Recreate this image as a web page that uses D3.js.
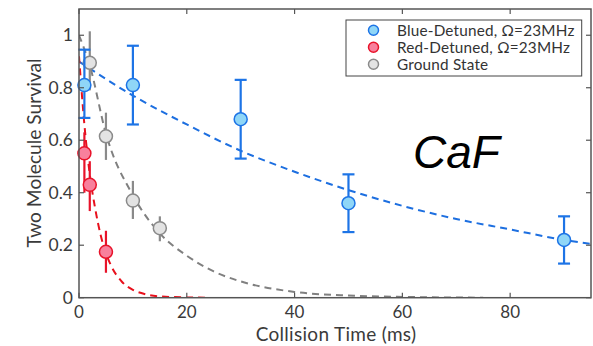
<!DOCTYPE html>
<html><head><meta charset="utf-8">
<script src="https://cdn.jsdelivr.net/npm/d3@7"></script>
<style>body{margin:0;background:#fff}svg{display:block}</style>
</head><body>
<svg id="c" width="593" height="346"></svg>
<script>
// ---- data ----
const blueT   = [1, 10, 30, 50, 90];
const blueY   = [0.81, 0.81, 0.68, 0.36, 0.22];
const blueLo  = [0.685, 0.66, 0.53, 0.25, 0.13];
const blueHi  = [0.945, 0.96, 0.83, 0.47, 0.31];

const redT    = [1, 2, 5];
const redY    = [0.55, 0.43, 0.175];
const redLo   = [0.40, 0.33, 0.095];
const redHi   = [0.63, 0.52, 0.255];

const grayT   = [2, 5, 10, 15];
const grayY   = [0.895, 0.615, 0.37, 0.265];
const grayLo  = [0.79, 0.525, 0.30, 0.215];
const grayHi  = [1.015, 0.705, 0.445, 0.31];

// dashed fit curves
const blueFitT = [0, 10, 20, 30, 40, 50, 60, 70, 80, 90, 95];
const blueFitY = [0.90, 0.77, 0.66, 0.56, 0.48, 0.41, 0.35, 0.30, 0.26, 0.22, 0.205];
const redFitT  = [0, 1, 2, 3, 4, 5, 6, 8, 10, 12, 15, 20, 24];
const redFitY  = [0.92, 0.66, 0.47, 0.34, 0.24, 0.17, 0.12, 0.06, 0.03, 0.015, 0.005, 0.001, 0.0];
const grayFitT = [0, 2, 5, 10, 15, 20, 25, 30, 40, 50, 60, 75];
const grayFitY = [1.0, 0.885, 0.625, 0.39, 0.245, 0.16, 0.10, 0.062, 0.022, 0.008, 0.003, 0.0];

const xTicks = [0, 20, 40, 60, 80];
const yTicks = [0, 0.2, 0.4, 0.6, 0.8, 1];
const legendLabels = ["Blue-Detuned, \u03A9=23MHz", "Red-Detuned, \u03A9=23MHz", "Ground State"];

// ---- drawing ----
const svg = d3.select("#c");
const L = 79, R = 591, T = 9, B = 297.7;
const x = d3.scaleLinear().domain([0, 95]).range([L, R]);
const y = d3.scaleLinear().domain([0, 1.1]).range([B, T]);
const font = "Lato, 'Open Sans', sans-serif";
const axisCol = "#555";
const txtCol = "#3a3a3a";

const series = [
  {t: blueT, v: blueY, lo: blueLo, hi: blueHi, ft: blueFitT, fv: blueFitY,
   line: "#1d6fe0", stroke: "#1d74e6", fill: "#8fd6f7", cap: 6},
  {t: grayT, v: grayY, lo: grayLo, hi: grayHi, ft: grayFitT, fv: grayFitY,
   line: "#808080", stroke: "#8a8a8a", fill: "#e3e3e3", cap: 0},
  {t: redT, v: redY, lo: redLo, hi: redHi, ft: redFitT, fv: redFitY,
   line: "#e8101c", stroke: "#e8132a", fill: "#f8809c", cap: 0}
];

svg.append("defs").append("clipPath").attr("id", "pc")
  .append("rect").attr("x", L).attr("y", T).attr("width", R - L).attr("height", B - T);

const plot = svg.append("g").attr("clip-path", "url(#pc)");
const lineGen = d3.line().curve(d3.curveMonotoneX);

series.forEach(s => {
  plot.append("path")
    .attr("d", lineGen(s.ft.map((t, i) => [x(t), y(s.fv[i])])))
    .attr("fill", "none").attr("stroke", s.line).attr("stroke-width", 2)
    .attr("stroke-dasharray", "7,5");
});

const order = [series[1], series[2], series[0]];
order.forEach(s => {
  const g = svg.append("g");
  s.t.forEach((t, i) => {
    g.append("line").attr("x1", x(t)).attr("x2", x(t))
      .attr("y1", y(s.lo[i])).attr("y2", y(s.hi[i]))
      .attr("stroke", s.stroke).attr("stroke-width", 2.2);
    if (s.cap) {
      [s.lo[i], s.hi[i]].forEach(e => {
        g.append("line").attr("x1", x(t) - s.cap).attr("x2", x(t) + s.cap)
          .attr("y1", y(e)).attr("y2", y(e))
          .attr("stroke", s.stroke).attr("stroke-width", 2.2);
      });
    }
  });
  s.t.forEach((t, i) => {
    g.append("circle").attr("cx", x(t)).attr("cy", y(s.v[i])).attr("r", 6.5)
      .attr("fill", s.fill).attr("stroke", s.stroke).attr("stroke-width", 1.5);
  });
});

svg.append("rect").attr("x", L).attr("y", T).attr("width", R - L).attr("height", B - T)
  .attr("fill", "none").attr("stroke", axisCol).attr("stroke-width", 1.5);

const tk = 5;
xTicks.forEach(v => {
  svg.append("line").attr("x1", x(v)).attr("x2", x(v)).attr("y1", B).attr("y2", B - tk)
    .attr("stroke", axisCol).attr("stroke-width", 1.2);
  svg.append("line").attr("x1", x(v)).attr("x2", x(v)).attr("y1", T).attr("y2", T + tk)
    .attr("stroke", axisCol).attr("stroke-width", 1.2);
  svg.append("text").attr("x", x(v)).attr("y", 317.5).attr("text-anchor", "middle")
    .attr("font-family", font).attr("font-size", 17).attr("fill", txtCol).text(d3.format("")(v));
});
yTicks.forEach(v => {
  svg.append("line").attr("x1", L).attr("x2", L + tk).attr("y1", y(v)).attr("y2", y(v))
    .attr("stroke", axisCol).attr("stroke-width", 1.2);
  svg.append("line").attr("x1", R).attr("x2", R - tk).attr("y1", y(v)).attr("y2", y(v))
    .attr("stroke", axisCol).attr("stroke-width", 1.2);
  svg.append("text").attr("x", L - 6).attr("y", y(v) + 6.2).attr("text-anchor", "end")
    .attr("font-family", font).attr("font-size", 17.5).attr("fill", txtCol).text(d3.format("")(v));
});

svg.append("text").attr("x", 336).attr("y", 340.5).attr("text-anchor", "middle")
  .attr("font-family", font).attr("font-size", 19).attr("letter-spacing", 0.3).attr("fill", txtCol).text("Collision Time (ms)");
svg.append("text").attr("transform", "translate(41,153) rotate(-90)").attr("text-anchor", "middle")
  .attr("font-family", font).attr("font-size", 19.2).attr("fill", txtCol).text("Two Molecule Survival");

svg.append("text").attr("x", 413).attr("y", 168).attr("font-family", "'Liberation Sans', Arial, sans-serif")
  .attr("font-style", "italic").attr("font-size", 46).attr("fill", "#000").text("CaF");

const lg = svg.append("g");
lg.append("rect").attr("x", 346).attr("y", 20).attr("width", 235.7).attr("height", 56)
  .attr("fill", "#fff").attr("stroke", "#444").attr("stroke-width", 1);
const legS = [series[0], series[2], series[1]];
legendLabels.forEach((lab, i) => {
  const cy = 30.3 + i * 17;
  lg.append("circle").attr("cx", 373.5).attr("cy", cy).attr("r", 5)
    .attr("fill", legS[i].fill).attr("stroke", legS[i].stroke).attr("stroke-width", 1.5);
  lg.append("text").attr("x", 397).attr("y", cy + 5.3).attr("font-family", font)
    .attr("font-size", 15.3).attr("letter-spacing", 0.2).attr("fill", "#333").text(lab);
});
</script>
</body></html>
